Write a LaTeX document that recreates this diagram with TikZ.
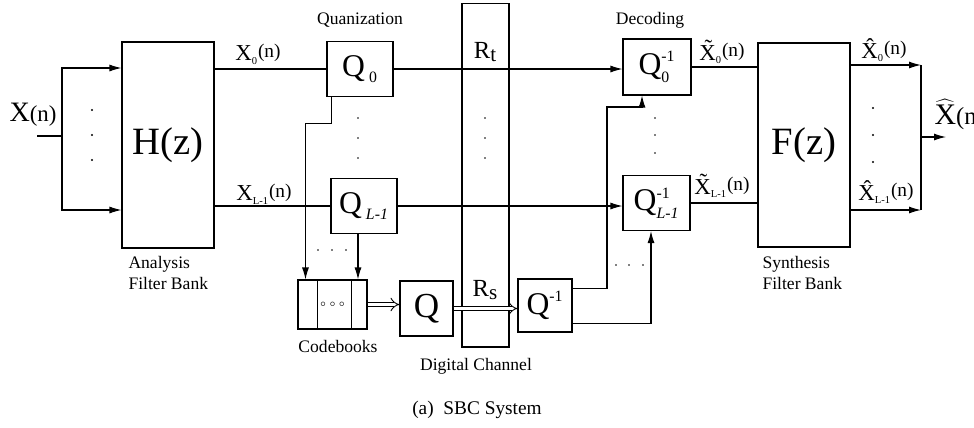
\documentclass[tikz,border=0pt]{standalone}
\usepackage{fontspec}
\setmainfont{Liberation Serif}
\usetikzlibrary{arrows.meta}
\newcommand{\qsz}{\fontsize{18}{20}\selectfont}
\newcommand{\ssz}{\fontsize{9}{9}\selectfont}
\newcommand{\sband}[2]{#1\textsubscript{\fontsize{6}{6}\selectfont#2}\raisebox{0.35ex}{\fontsize{11}{12}\selectfont(n)}}
\begin{document}
\begin{tikzpicture}[x=0.02cm,y=-0.02cm,line width=0.6pt,>={Latex[length=2.4mm,width=1.4mm]},
  blk/.style={draw,inner sep=0pt},
  txt/.style={font=\fontsize{10}{12}\selectfont,inner sep=0pt,align=left},
  sig/.style={font=\fontsize{13}{15}\selectfont,inner sep=0pt},
  dbl/.style={double,double distance=2.2pt,line width=0.5pt,-{Implies}}]
  \useasboundingbox (0,0) rectangle (974,427);
  % banco de analisis
  \node[blk,minimum width=1.84cm,minimum height=4.12cm,font=\fontsize{22}{24}\selectfont] (H) at (168,145) {H(z)};
  \node[txt,anchor=north west] (anl) at (128,256) {Analysis\\Filter Bank};
  % entrada
  \node[font=\fontsize{16}{18}\selectfont,inner sep=0pt] (xin) at (33,115) {X\fontsize{13}{15}\selectfont(n)};
  \coordinate (in) at (37,136);
  \coordinate (split) at (62,136);
  \draw (in) -- (split);
  \draw[->] (split) |- (H.west |- 0,68);
  \draw[->] (split) |- (H.west |- 0,210);
  \foreach \y in {110,135,160} \fill (92,\y) circle (0.7pt);
  % cuantizadores
  \node[txt] (quan) at (360,20) {Quanization};
  \node[blk,minimum width=1.32cm,minimum height=1.1cm,font=\qsz] (Q0) at (360,69) {${\hbox{Q}}_{\hbox{\ssz\ 0}}$};
  \node[blk,minimum width=1.32cm,minimum height=1.1cm,font=\qsz] (QL) at (364,206) {${\hbox{Q}}_{\hbox{\ssz\itshape\ L-1}}$};
  \draw (H.east |- Q0.west) -- (Q0.west);
  \draw (H.east |- QL.west) -- (QL.west);
  \node[sig] (x0) at (258,54) {\sband{X}{0}};
  \node[sig] (xL) at (264,194) {\sband{X}{L-1}};
  \foreach \y in {118,138,158} \fill (358,\y) circle (0.5pt);
  % codebooks
  \node[blk,minimum width=1.38cm,minimum height=0.98cm] (CB) at (332.5,304.5) {\tiny$\circ\circ\circ$};
  \draw ([xshift=0.4cm]CB.north west) -- ([xshift=0.4cm]CB.south west);
  \draw ([xshift=-0.32cm]CB.north east) -- ([xshift=-0.32cm]CB.south east);
  \node[txt] (cbl) at (338,346) {Codebooks};
  \draw[->] ([xshift=0.1cm]Q0.south west) -- ++(0,26) -| ([xshift=0.16cm]CB.north west);
  \draw[->] ([xshift=-0.12cm]QL.south) -- ([xshift=-0.12cm]QL.south |- CB.north);
  \foreach \x in {318,332,346} \fill (\x,250) circle (0.5pt);
  \node[blk,minimum width=1.06cm,minimum height=1.1cm,font=\fontsize{20}{22}\selectfont] (Qc) at (426.5,308.5) {Q};
  \draw[dbl] (CB.east) -- (CB.east -| Qc.west);
  % canal digital
  \node[blk,minimum width=0.94cm,minimum height=6.88cm] (chan) at (485.5,175) {};
  \node[txt] (chl) at (476,366) {Digital Channel};
  \node[font=\fontsize{14}{16}\selectfont,inner sep=0pt] (Rt) at (485,52) {R\raisebox{-0.3ex}{\fontsize{12}{12}\selectfont t}};
  \node[font=\fontsize{14}{16}\selectfont,inner sep=0pt] (Rs) at (485,290) {R\raisebox{-0.3ex}{\fontsize{12}{12}\selectfont s}};
  \foreach \y in {118,138,158} \fill (485,\y) circle (0.5pt);
  % decodificacion
  \node[blk,minimum width=1.08cm,minimum height=1.06cm,font=\qsz] (Qi) at (545,305.5) {${\hbox{Q}}^{\hbox{\ssz -1}}$};
  \draw[dbl] (Qc.east) -- (Qc.east -| Qi.west);
  \node[txt] (dec) at (650,20) {Decoding};
  \node[blk,minimum width=1.36cm,minimum height=1.12cm,font=\qsz] (D0) at (657,67) {${\hbox{Q}}^{\hbox{\ssz -1}}_{\hbox{\ssz 0}}$};
  \node[blk,minimum width=1.34cm,minimum height=1.1cm,font=\qsz] (DL) at (656.5,203) {${\hbox{Q}}^{\hbox{\ssz -1}}_{\hbox{\ssz\itshape L-1}}$};
  \draw[->] (Q0.east) -- (Q0.east -| D0.west);
  \draw[->] (QL.east) -- (QL.east -| DL.west);
  \coordinate (b0) at (607,107);
  \draw[->] ([yshift=-0.2cm]Qi.north east) -| (b0) -| ([xshift=-0.3cm]D0.south);
  \draw[->] ([yshift=0.18cm]Qi.south east) -| ([xshift=-0.11cm]DL.south);
  \foreach \y in {118,135,153} \fill (655,\y) circle (0.5pt);
  \foreach \x in {616,629,643} \fill (\x,265) circle (0.5pt);
  % banco de sintesis
  \node[blk,minimum width=1.84cm,minimum height=4.08cm,font=\fontsize{22}{24}\selectfont] (F) at (804,145) {F(z)};
  \node[txt,anchor=north west] (syn) at (762,256) {Synthesis\\Filter Bank};
  \draw (D0.east) -- (D0.east -| F.west);
  \draw (DL.east) -- (DL.east -| F.west);
  \node[sig] (y0) at (722,52) {\sband{\~{X}}{0}};
  \node[sig] (yL) at (722,186) {\sband{\~{X}}{L-1}};
  % salida
  \coordinate (o0) at (921,65);
  \coordinate (oL) at (921,210);
  \coordinate (om) at (921,137);
  \coordinate (out) at (946,137);
  \draw[->] (o0 -| F.east) -- (o0);
  \draw[->] (oL -| F.east) -- (oL);
  \draw (o0) -- (oL);
  \draw[->] (om) -- (out);
  \node[sig] (z0) at (884,50) {\sband{\^{X}}{0}};
  \node[sig] (zL) at (886,192) {\sband{\^{X}}{L-1}};
  \foreach \y in {108,135,162} \fill (873,\y) circle (0.6pt);
  \node[font=\fontsize{17}{19}\selectfont,inner sep=0pt,anchor=west] (xout) at (934,115) {$\widehat{\hbox{X}}$\fontsize{14}{16}\selectfont(n)};
  % titulo
  \node[font=\fontsize{11}{13}\selectfont,inner sep=0pt] (cap) at (477,410) {(a)\ \ SBC System};
\end{tikzpicture}
\end{document}
